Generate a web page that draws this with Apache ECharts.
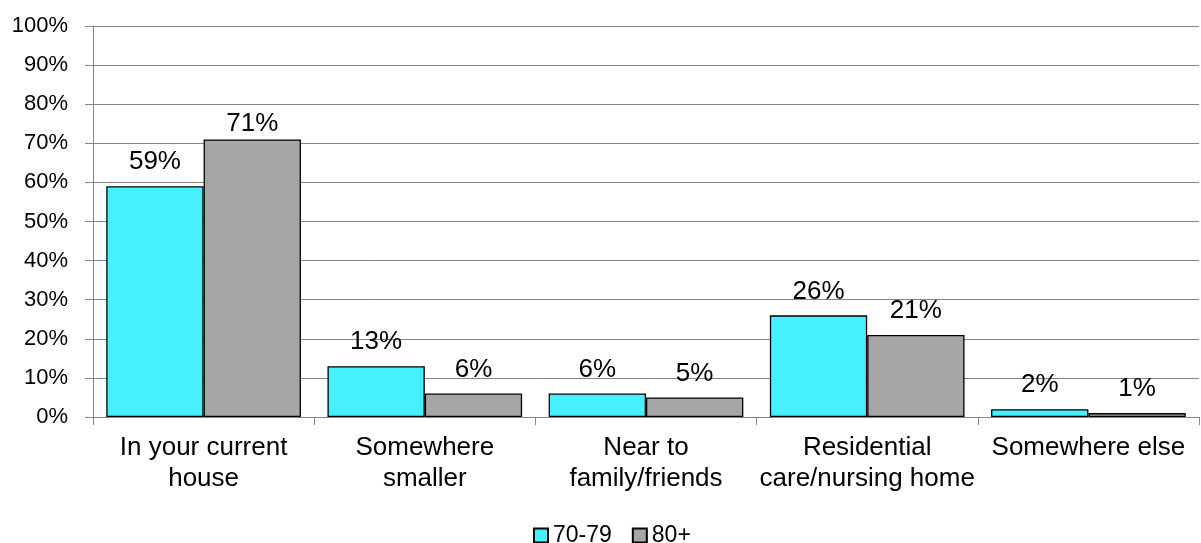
<!DOCTYPE html>
<html><head><meta charset="utf-8">
<script src="https://cdn.jsdelivr.net/npm/echarts@6/dist/echarts.min.js"></script>
<style>html,body{margin:0;padding:0;background:#fff}#c{width:1201px;height:543px}</style>
</head><body><div id="c"></div>
<script>
const categories = ['In your current\nhouse', 'Somewhere\nsmaller', 'Near to\nfamily/friends', 'Residential\ncare/nursing home', 'Somewhere else'];
const series7079 = [59, 13, 6, 26, 2];
const series80 = [71, 6, 5, 21, 1];
const seriesNames = ['70-79', '80+'];
const font = 'Liberation Sans, Arial, sans-serif';
const chart = echarts.init(document.getElementById('c'));
const lbl = {show: true, position: 'top', distance: 11, formatter: '{c}%', color: '#000', fontSize: 26, fontFamily: font};
// the tallest label sits closer to its bar in the reference
const data80 = series80.map((v, i) => i === 0 ? {value: v, label: {distance: 3}} : v);
chart.setOption({
  animation: false,
  grid: {left: 93, right: 2, top: 26, bottom: 126},
  legend: {top: 519, left: 528, itemWidth: 14, itemHeight: 14, itemGap: 20, icon: 'rect',
    textStyle: {fontSize: 23, fontFamily: font, color: '#000'},
    data: seriesNames},
  xAxis: {type: 'category', data: categories,
    axisLine: {lineStyle: {color: '#868686', width: 1}},
    axisTick: {show: true, length: 8, lineStyle: {color: '#868686'}},
    axisLabel: {color: '#000', fontSize: 26, fontFamily: font, margin: 15, lineHeight: 31, interval: 0}},
  yAxis: {type: 'value', min: 0, max: 100, interval: 10,
    axisLine: {show: true, lineStyle: {color: '#868686'}},
    axisTick: {show: true, length: 8, lineStyle: {color: '#868686'}},
    splitLine: {lineStyle: {color: '#868686', width: 1}},
    axisLabel: {formatter: '{value}%', color: '#000', fontSize: 22, fontFamily: font, margin: 25}},
  series: [
    {name: seriesNames[0], type: 'bar', data: series7079, barGap: '0%', barCategoryGap: '12%',
     itemStyle: {color: '#45F0FF', borderColor: '#000', borderWidth: 1.3}, label: lbl},
    {name: seriesNames[1], type: 'bar', data: data80,
     itemStyle: {color: '#A6A6A6', borderColor: '#000', borderWidth: 1.3}, label: lbl}
  ]
});
</script></body></html>
